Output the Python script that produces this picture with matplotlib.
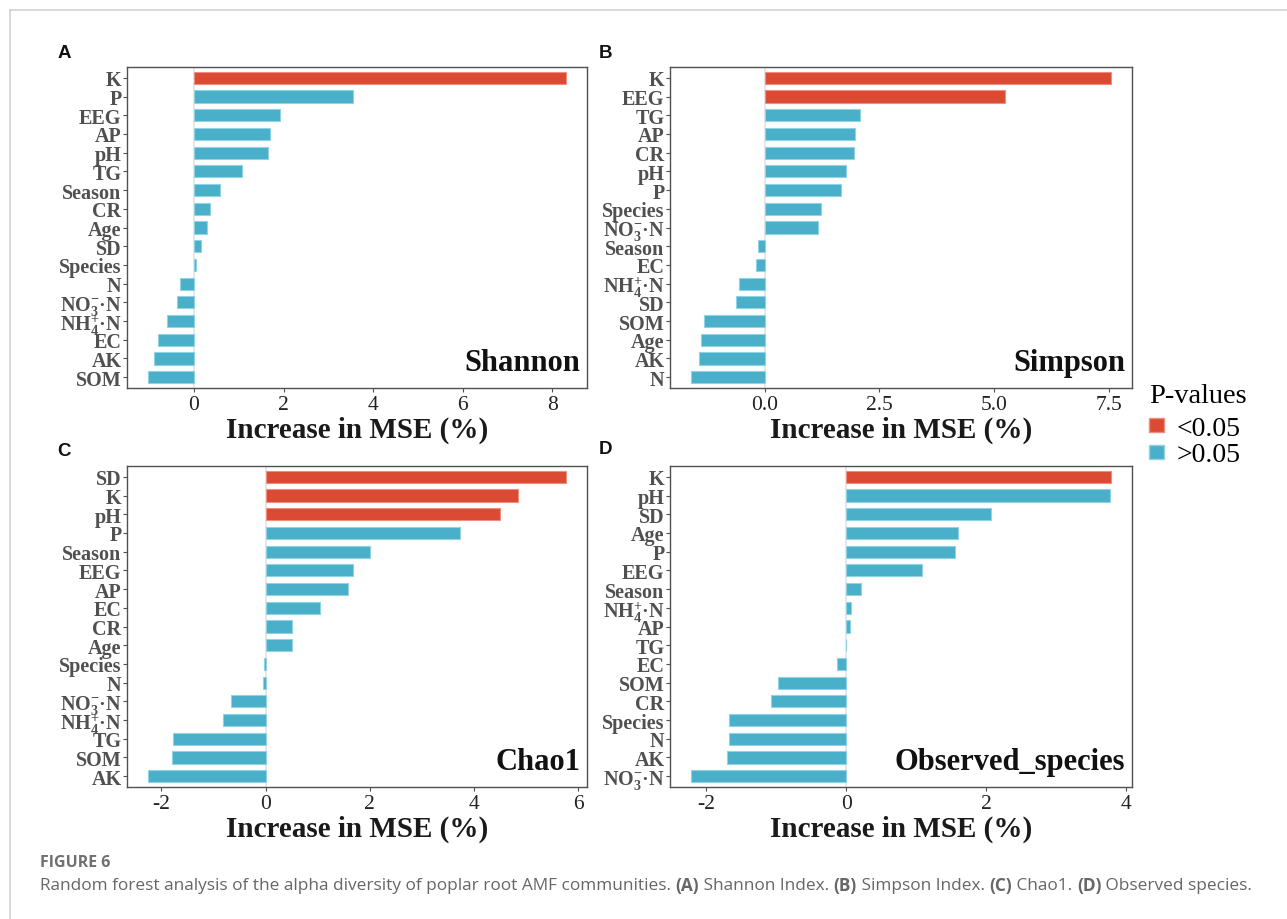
import matplotlib
matplotlib.use("Agg")
import matplotlib.pyplot as plt
from matplotlib.patches import Patch
from matplotlib.lines import Line2D
from matplotlib.ticker import MultipleLocator, FormatStrFormatter

plt.rcParams['font.family'] = ['Liberation Serif', 'DejaVu Serif']
plt.rcParams['mathtext.fontset'] = 'custom'
plt.rcParams['mathtext.rm'] = 'Liberation Serif:bold'
plt.rcParams['mathtext.it'] = 'Liberation Serif:bold:italic'
plt.rcParams['mathtext.bf'] = 'Liberation Serif:bold'

# ---- data (top to bottom as drawn) ----
shannon_vars = ['K', 'P', 'EEG', 'AP', 'pH', 'TG', 'Season', 'CR', 'Age', 'SD',
                'Species', 'N', 'NO3', 'NH4', 'EC', 'AK', 'SOM']
shannon_vals = [8.31, 3.56, 1.91, 1.70, 1.66, 1.08, 0.57, 0.35, 0.29, 0.15,
                0.05, -0.31, -0.37, -0.61, -0.81, -0.89, -1.03]
shannon_sig = ['K']

simpson_vars = ['K', 'EEG', 'TG', 'AP', 'CR', 'pH', 'P', 'Species', 'NO3', 'Season',
                'EC', 'NH4', 'SD', 'SOM', 'Age', 'AK', 'N']
simpson_vals = [7.55, 5.24, 2.07, 1.97, 1.94, 1.76, 1.66, 1.22, 1.16, -0.14,
                -0.19, -0.56, -0.63, -1.33, -1.40, -1.44, -1.61]
simpson_sig = ['K', 'EEG']

chao1_vars = ['SD', 'K', 'pH', 'P', 'Season', 'EEG', 'AP', 'EC', 'CR', 'Age',
              'Species', 'N', 'NO3', 'NH4', 'TG', 'SOM', 'AK']
chao1_vals = [5.77, 4.85, 4.51, 3.73, 2.00, 1.67, 1.58, 1.04, 0.51, 0.50,
              -0.03, -0.05, -0.67, -0.81, -1.77, -1.79, -2.26]
chao1_sig = ['SD', 'K', 'pH']

obs_vars = ['K', 'pH', 'SD', 'Age', 'P', 'EEG', 'Season', 'NH4', 'AP', 'TG',
            'EC', 'SOM', 'CR', 'Species', 'N', 'AK', 'NO3']
obs_vals = [3.79, 3.78, 2.07, 1.60, 1.56, 1.08, 0.21, 0.07, 0.06, 0.0,
            -0.13, -0.97, -1.07, -1.67, -1.68, -1.71, -2.22]
obs_sig = ['K']

label_map = {
    'NO3': r'NO$_{\mathrm{3}}^{\mathrm{-}}$·N',
    'NH4': r'NH$_{\mathrm{4}}^{\mathrm{+}}$·N',
}

RED = '#DB4A33'
BLUE = '#4AAFC9'
RED_EDGE = '#EE8E7E'
BLUE_EDGE = '#8FD3E4'
SPINE = '#505050'

W, H = 1287, 920
fig = plt.figure(figsize=(W / 100, H / 100), dpi=100)


def panel(rect, names, vals, sig, title, letter, letter_xy, step, fmt):
    l, t, r, b = rect
    ax = fig.add_axes([l / W, 1 - b / H, (r - l) / W, (b - t) / H])
    n = len(names)
    ypos = list(range(n))[::-1]
    colors = [RED if v in sig else BLUE for v in names]
    edges = [RED_EDGE if v in sig else BLUE_EDGE for v in names]
    ax.axvline(0, color='#e4e4e4', lw=1.2, zorder=1)
    ax.barh(ypos, vals, height=0.65, color=colors, edgecolor=edges,
            linewidth=0.8, zorder=2)
    lo, hi = min(vals), max(vals)
    pad = (hi - lo) * 0.05
    ax.set_xlim(lo - pad, hi + pad)
    ax.set_ylim(-0.58, n - 0.42)
    ax.set_yticks(ypos)
    ax.set_yticklabels([label_map.get(v, v) for v in names],
                       fontsize=14.5, fontweight='bold', color='#1a1a1a')
    ax.xaxis.set_major_locator(MultipleLocator(step))
    ax.xaxis.set_major_formatter(FormatStrFormatter(fmt))
    ax.tick_params(axis='x', labelsize=15.5, colors=SPINE, labelcolor='#222222',
                   length=3, width=0.8, pad=2)
    ax.tick_params(axis='y', colors=SPINE, length=3, width=0.8, pad=1)
    for s in ax.spines.values():
        s.set_color(SPINE)
        s.set_linewidth(1.0)
    ax.set_xlabel('Increase in MSE (%)', fontsize=21, fontweight='bold',
                  color='#1a1a1a', labelpad=1)
    ax.text(0.985, 0.035, title, transform=ax.transAxes, ha='right', va='bottom',
            fontsize=22, fontweight='bold', color='#111111')
    fig.text(letter_xy[0] / W, 1 - letter_xy[1] / H, letter, ha='center', va='center',
             fontsize=13.5, fontweight='bold', family='Liberation Sans', color='#111111')
    return ax


panel((127, 68, 587, 389), shannon_vars, shannon_vals, shannon_sig,
      'Shannon', 'A', (64, 54), 2, '%d')
panel((670, 68, 1132, 389), simpson_vars, simpson_vals, simpson_sig,
      'Simpson', 'B', (606, 54), 2.5, '%.1f')
panel((127, 467, 587, 788), chao1_vars, chao1_vals, chao1_sig,
      'Chao1', 'C', (64, 452), 2, '%d')
panel((670, 467, 1132, 788), obs_vars, obs_vals, obs_sig,
      'Observed_species', 'D', (605, 450), 2, '%d')

# legend
handles = [Patch(facecolor=RED, edgecolor=RED_EDGE, label='<0.05'),
           Patch(facecolor=BLUE, edgecolor=BLUE_EDGE, label='>0.05')]
leg = fig.legend(handles=handles, title='P-values', loc='upper left',
                 bbox_to_anchor=(1146 / W, 1 - 381 / H), frameon=False,
                 fontsize=20, title_fontsize=20.5, handlelength=0.55,
                 handleheight=0.4, handletextpad=0.45, labelspacing=0.05,
                 borderpad=0.1, borderaxespad=0)
leg._legend_box.align = 'left'
leg._legend_box.sep = 6

# page frame
fig.add_artist(Line2D([10 / W, 1], [1 - 11 / H, 1 - 11 / H], color='#d2d2d2', lw=1.2))
fig.add_artist(Line2D([10 / W, 10 / W], [0, 1 - 11 / H], color='#d2d2d2', lw=1.2))

# caption
fig.text(40 / W, 1 - 863 / H, 'FIGURE 6', fontsize=11.5, fontweight='bold',
         family='Open Sans', color='#707070', va='center')

runs = [('Random forest analysis of the alpha diversity of poplar root AMF communities. ', 'normal'),
        ('(A)', 'bold'), (' Shannon Index. ', 'normal'),
        ('(B)', 'bold'), (' Simpson Index. ', 'normal'),
        ('(C)', 'bold'), (' Chao1. ', 'normal'),
        ('(D)', 'bold'), (' Observed species.', 'normal')]
renderer = fig.canvas.get_renderer()
x = 40
for txt, wt in runs:
    t = fig.text(x / W, 1 - 886 / H, txt, fontsize=12.4, fontweight=wt,
                 family='Open Sans', color='#666666', va='center')
    bb = t.get_window_extent(renderer=renderer)
    x += bb.width

fig.savefig('out.png', dpi=100)
